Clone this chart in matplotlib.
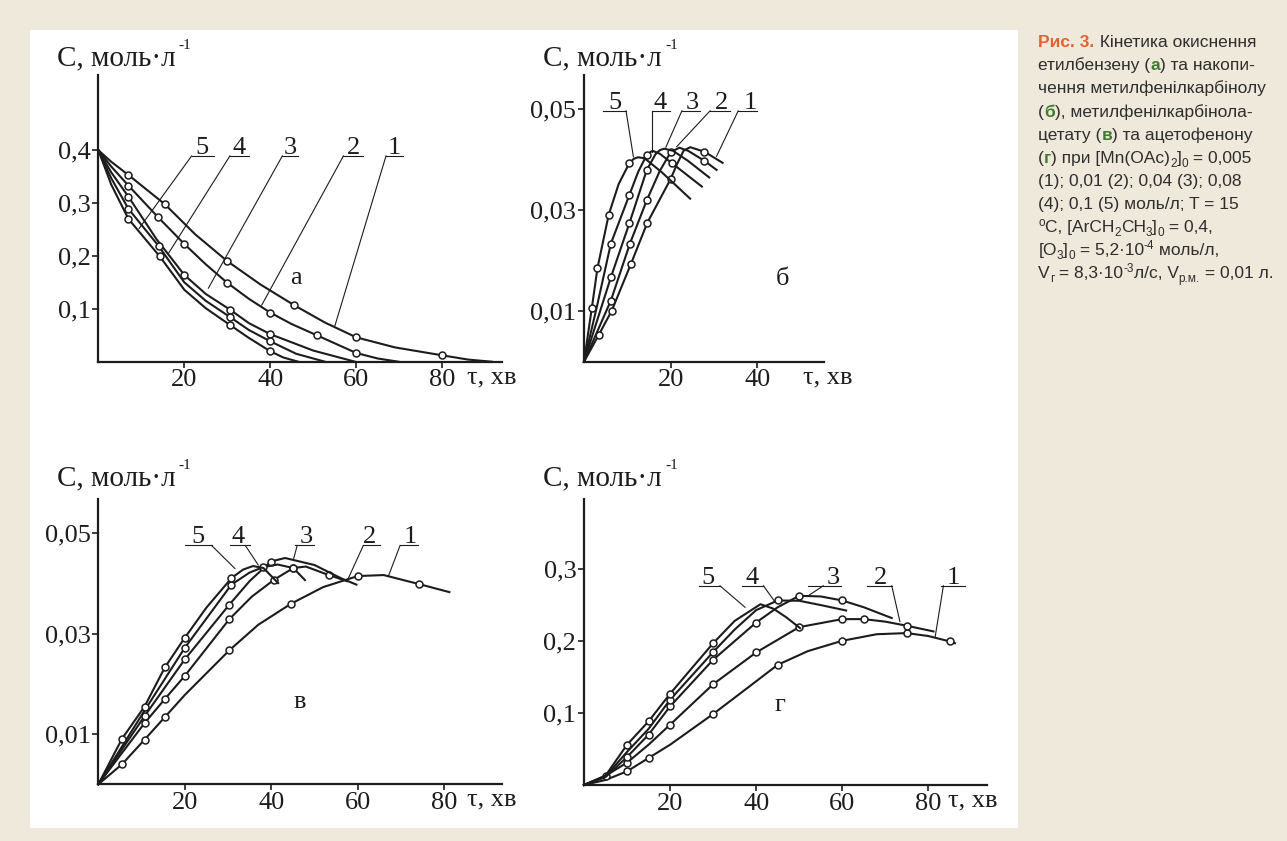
import matplotlib
matplotlib.use('Agg')
import matplotlib.pyplot as plt
from matplotlib.patches import Rectangle
from matplotlib.font_manager import FontProperties

# ---- data (x: tau, min; y: C, mol/l) ----
# panel a: ethylbenzene decay, curves 1..5
A_X = [[0, 3, 7, 15.5, 22.5, 30, 37.7, 45.5, 52.7, 60, 69, 80, 86, 91.5],
       [0, 3, 7, 13.8, 20, 25, 30, 35, 40, 45, 50.8, 60, 65, 69.8],
       [0, 3, 7, 13.5, 20, 25, 30.7, 35, 40, 50, 59.7],
       [0, 3, 7, 14, 20, 25, 30.7, 35, 40, 46, 52.7],
       [0, 3, 7, 14.3, 20, 25, 30.7, 35, 40, 43, 46.5]]
A_Y = [[0.4, 0.378, 0.353, 0.2975, 0.241, 0.190, 0.146, 0.107, 0.074, 0.046, 0.027, 0.012, 0.004, 0.0],
       [0.4, 0.369, 0.333, 0.274, 0.2225, 0.184, 0.149, 0.119, 0.0927, 0.071, 0.050, 0.0164, 0.006, 0.0],
       [0.4, 0.358, 0.312, 0.232, 0.164, 0.128, 0.098, 0.073, 0.052, 0.021, 0.0],
       [0.4, 0.347, 0.289, 0.219, 0.150, 0.115, 0.084, 0.060, 0.0385, 0.015, 0.0],
       [0.4, 0.335, 0.270, 0.199, 0.136, 0.101, 0.069, 0.045, 0.0197, 0.008, 0.0]]
A_M = [[2, 3, 5, 7, 9, 11], [2, 3, 4, 6, 8, 10, 11], [2, 4, 6, 8], [2, 3, 6, 8], [2, 3, 6, 8]]

# panel b: methylphenylcarbinol
B_X = [[0, 3.4, 6.4, 10.8, 14.6, 20, 21.5, 23, 24.5, 27.8, 32],
       [0, 6.2, 10.6, 14.5, 17.5, 20, 22, 24, 27.8, 30.6],
       [0, 6.2, 10.5, 14.5, 16.5, 17.5, 18.5, 20.5, 24, 28.9],
       [0, 3, 6.2, 10.5, 12.5, 14.5, 15.8, 17.5, 20.2, 27.2],
       [0, 1.8, 3.1, 5.7, 8, 10.5, 11.5, 12.5, 14, 18, 24.5]]
B_Y = [[0, 0.0053, 0.0101, 0.0193, 0.0275, 0.0362, 0.0392, 0.0418, 0.0425, 0.0416, 0.0394],
       [0, 0.0121, 0.0234, 0.032, 0.0378, 0.0415, 0.0424, 0.0418, 0.0398, 0.038],
       [0, 0.0167, 0.0275, 0.038, 0.0411, 0.0419, 0.0422, 0.0418, 0.0398, 0.0365],
       [0, 0.011, 0.0234, 0.0331, 0.0376, 0.0410, 0.0418, 0.0412, 0.0394, 0.0347],
       [0, 0.0106, 0.0185, 0.0291, 0.0352, 0.0394, 0.0402, 0.0405, 0.0403, 0.0375, 0.0323]]
B_M = [[1, 2, 3, 4, 5, 9], [1, 2, 3, 5, 8], [1, 2, 3], [2, 3, 5, 8], [1, 2, 3, 5]]

# panel v: methylphenylcarbinol acetate
V_X = [[0, 5.5, 10.7, 15.4, 20, 30.3, 37, 44.6, 52, 60, 66, 74.2, 81.2],
       [0, 10.7, 15.4, 20, 30.3, 35.5, 40.7, 45.1, 48, 53.3, 57.5],
       [0, 10.7, 20, 30.3, 35, 39.9, 43.2, 50, 56.3, 59.7],
       [0, 10.7, 20, 30.8, 35, 38.2, 41.5, 45.1, 47.8],
       [0, 5.5, 10.7, 15.4, 20, 25, 30.8, 33.5, 35.8, 38.2, 41.6]]
V_Y = [[0, 0.004, 0.0089, 0.0134, 0.0178, 0.0267, 0.0318, 0.036, 0.0393, 0.0415, 0.0417, 0.0399, 0.0383],
       [0, 0.0122, 0.017, 0.0216, 0.0329, 0.0374, 0.0408, 0.0431, 0.0434, 0.0417, 0.0405],
       [0, 0.0136, 0.0249, 0.0358, 0.0405, 0.0444, 0.0451, 0.0437, 0.041, 0.0398],
       [0, 0.0147, 0.0272, 0.0398, 0.0422, 0.0433, 0.0438, 0.0431, 0.0407],
       [0, 0.0091, 0.0155, 0.0233, 0.0292, 0.0352, 0.0411, 0.0428, 0.0435, 0.0431, 0.0401]]
V_M = [[1, 2, 3, 5, 7, 9, 11], [1, 2, 3, 4, 6, 7, 9], [1, 2, 3, 5], [2, 3, 5, 7], [1, 2, 3, 4, 6]]

# panel g: acetophenone
G_X = [[0, 5, 10, 15, 20, 30, 38, 45, 52, 60, 68, 75, 80, 85, 86.2],
       [0, 5, 10, 15, 20, 30, 40, 50, 60, 65, 70, 75, 81.2],
       [0, 5, 10, 15, 20, 30, 40, 45, 50, 55, 60, 65, 71.5],
       [0, 5, 10, 15, 20, 30, 35, 40, 45, 50, 55, 60.9],
       [0, 5, 10, 15, 20, 25, 30, 35, 41, 44, 47, 50.2]]
G_Y = [[0, 0.007, 0.019, 0.0375, 0.056, 0.0986, 0.135, 0.167, 0.186, 0.2004, 0.2095, 0.2111, 0.207, 0.1995, 0.197],
       [0, 0.0129, 0.031, 0.056, 0.0838, 0.140, 0.1842, 0.2194, 0.2305, 0.2305, 0.227, 0.2213, 0.2134],
       [0, 0.011, 0.0389, 0.070, 0.1092, 0.174, 0.2258, 0.247, 0.2629, 0.262, 0.2564, 0.247, 0.232],
       [0, 0.012, 0.046, 0.078, 0.1185, 0.1847, 0.216, 0.243, 0.2564, 0.256, 0.250, 0.2425],
       [0, 0.013, 0.056, 0.0884, 0.1268, 0.162, 0.197, 0.228, 0.2512, 0.245, 0.233, 0.218]]
G_M = [[2, 3, 5, 7, 9, 11, 13], [1, 2, 4, 5, 6, 7, 8, 9, 11], [2, 3, 4, 5, 6, 8, 10], [4, 5, 8], [2, 3, 4, 6]]

CURVE_NAMES = ['1', '2', '3', '4', '5']

# curve-number callouts: text x, underline y, underline x0/x1, leader start x, leader end (x, y)
A_LBL = dict(tx=[68.8, 59.3, 44.6, 32.8, 24.0], uy=0.389,
             u0=[66.9, 57.0, 42.8, 30.6, 21.7], u1=[70.8, 61.5, 46.5, 35.0, 26.9],
             l0=[66.9, 57.0, 42.8, 30.6, 21.7], lx=[55.0, 38.0, 25.6, 16.4, 9.5],
             ly=[0.0675, 0.107, 0.139, 0.206, 0.252])
B_LBL = dict(tx=[38.5, 31.8, 25.1, 17.6, 7.2], uy=0.0497,
             u0=[35.6, 29.1, 22.6, 15.6, 4.4], u1=[40.0, 33.7, 26.8, 19.9, 9.7],
             l0=[35.6, 29.1, 22.6, 15.6, 9.7], lx=[30.6, 21.4, 18.9, 15.6, 11.4],
             ly=[0.0407, 0.0426, 0.0425, 0.0416, 0.0406])
V_LBL = dict(tx=[72.1, 62.8, 48.0, 32.4, 23.1], uy=0.0476,
             u0=[69.8, 61.3, 45.5, 30.5, 20.0], u1=[74.0, 65.2, 49.8, 35.0, 26.2],
             l0=[69.8, 61.3, 46.0, 34.0, 26.2], lx=[67.1, 57.8, 45.2, 37.0, 31.6],
             ly=[0.0415, 0.041, 0.045, 0.0437, 0.043])
G_LBL = dict(tx=[85.8, 68.8, 57.8, 39.0, 28.9], uy=0.2768,
             u0=[83.0, 65.8, 52.1, 36.6, 26.7], u1=[88.5, 71.5, 59.8, 41.7, 31.6],
             l0=[83.5, 71.5, 55.6, 41.7, 31.6], lx=[81.6, 73.4, 52.1, 44.3, 37.4],
             ly=[0.2064, 0.227, 0.263, 0.255, 0.247])

CAPTION = [
    [('Рис. 3.', 'title'), (' Кінетика окиснення', 'n')],
    [('етилбензену (', 'n'), ('а', 'key'), (') та накопи-', 'n')],
    [('чення метилфенілкарбінолу', 'n')],
    [('(', 'n'), ('б', 'key'), ('), метилфенілкарбінола-', 'n')],
    [('цетату (', 'n'), ('в', 'key'), (') та ацетофенону', 'n')],
    [('(', 'n'), ('г', 'key'), (') при [Mn(OAc)', 'n'), ('2', 'sub'), (']', 'n'), ('0', 'sub'), (' = 0,005', 'n')],
    [('(1); 0,01 (2); 0,04 (3); 0,08', 'n')],
    [('(4); 0,1 (5) моль/л; T = 15', 'n')],
    [('o', 'sup'), ('C, [ArCH', 'n'), ('2', 'sub'), ('CH', 'n'), ('3', 'sub'), (']', 'n'), ('0', 'sub'), (' = 0,4,', 'n')],
    [('[O', 'n'), ('3', 'sub'), (']', 'n'), ('0', 'sub'), (' = 5,2·10', 'n'), ('-4', 'sup'), (' моль/л,', 'n')],
    [('V', 'n'), ('г', 'sub'), (' = 8,3·10', 'n'), ('-3', 'sup'), ('л/с, V', 'n'), ('р.м.', 'sub'), (' = 0,01 л.', 'n')],
]

INK = '#1c1c1c'
W, H = 1287, 841
FS = 19

plt.rcParams['font.family'] = ['Liberation Serif', 'DejaVu Serif']

fig = plt.figure(figsize=(W / 100, H / 100), dpi=100)
fig.patch.set_facecolor('#efe9dc')
fig.patches.append(Rectangle((30 / W, 1 - 828 / H), 988 / W, 798 / H, transform=fig.transFigure,
                             facecolor='white', edgecolor='none', zorder=-5))


def add_ax(left, right, bottom, top):
    ax = fig.add_axes([left / W, 1 - bottom / H, (right - left) / W, (bottom - top) / H])
    ax.patch.set_visible(False)
    for s in ['top', 'right']:
        ax.spines[s].set_visible(False)
    for s in ['left', 'bottom']:
        ax.spines[s].set_linewidth(1.6)
        ax.spines[s].set_color(INK)
    ax.tick_params(direction='out', length=4, width=1.2, colors=INK, labelsize=FS, pad=1.5)
    return ax


def draw_panel(ax, xs, ys, marks, lbl, xlim, ylim, xticks, yticks, ylabels, letter, tau_x):
    for x, y, m in zip(xs, ys, marks):
        ax.plot(x, y, color=INK, lw=1.5, marker='o', markevery=m, ms=5, mfc='white',
                mec=INK, mew=1.1, clip_on=False, zorder=3)
    for i, name in enumerate(CURVE_NAMES):
        ax.plot([lbl['u0'][i], lbl['u1'][i]], [lbl['uy'], lbl['uy']], color=INK, lw=0.8, clip_on=False)
        ax.plot([lbl['l0'][i], lbl['lx'][i]], [lbl['uy'], lbl['ly'][i]], color=INK, lw=0.8, clip_on=False)
        ax.annotate(name, (lbl['tx'][i], lbl['uy']), xytext=(0, 1.5), textcoords='offset points',
                    ha='center', va='baseline', fontsize=FS, color=INK)
    ax.set_xlim(*xlim)
    ax.set_ylim(*ylim)
    ax.set_xticks(xticks)
    ax.set_xticklabels([str(t) for t in xticks])
    ax.set_yticks(yticks)
    ax.set_yticklabels(ylabels)
    ax.text(letter[0], letter[1], letter[2], ha='center', va='center', fontsize=FS, color=INK)
    ax.annotate('τ, хв', xy=(tau_x, 0), xycoords=('data', 'axes fraction'), xytext=(0, -11),
                textcoords='offset points', ha='left', va='center', fontsize=FS, color=INK,
                annotation_clip=False)


def y_label(x_px, yc_px):
    t = fig.text(x_px / W, 1 - yc_px / H, 'C, моль·л', fontsize=FS + 2, ha='left', va='center', color=INK)
    bb = t.get_window_extent(fig.canvas.get_renderer())
    fig.text((bb.x1 + 3) / W, 1 - (yc_px - 13) / H, '-1', fontsize=11, ha='left', va='center', color=INK)


ax_a = add_ax(98.3, 501.7, 361.7, 75)
draw_panel(ax_a, A_X, A_Y, A_M, A_LBL, (0, 93.8), (0, 0.542), [20, 40, 60, 80],
           [0.1, 0.2, 0.3, 0.4], ['0,1', '0,2', '0,3', '0,4'], (45.9, 0.158, 'а'), 85.7)
y_label(56.7, 58.3)

ax_b = add_ax(584, 824, 361.7, 75)
draw_panel(ax_b, B_X, B_Y, B_M, B_LBL, (0, 55.4), (0, 0.0568), [20, 40],
           [0.01, 0.03, 0.05], ['0,01', '0,03', '0,05'], (45.9, 0.0164, 'б'), 50.6)
y_label(543.3, 58.3)

ax_v = add_ax(98.3, 501.7, 784.3, 499.3)
draw_panel(ax_v, V_X, V_Y, V_M, V_LBL, (0, 93.3), (0, 0.0568), [20, 40, 60, 80],
           [0.01, 0.03, 0.05], ['0,01', '0,03', '0,05'], (46.6, 0.0165, 'в'), 85.2)
y_label(56.7, 478.3)

ax_g = add_ax(584, 987.3, 785, 499.3)
draw_panel(ax_g, G_X, G_Y, G_M, G_LBL, (0, 93.7), (0, 0.397), [20, 40, 60, 80],
           [0.1, 0.2, 0.3], ['0,1', '0,2', '0,3'], (45.5, 0.1115, 'г'), 84.6)
y_label(543.3, 478.3)

# caption on the right, drawn piece by piece
renderer = fig.canvas.get_renderer()
CAP_FONT = ['Liberation Sans', 'DejaVu Sans']
STYLE = {'n': (12.5, 'normal', '#2e2e2e', 0),
         'title': (12.5, 'bold', '#e2632f', 0),
         'key': (12.5, 'bold', '#3e7d2c', 0),
         'sub': (8.5, 'normal', '#2e2e2e', 4),
         'sup': (8.5, 'normal', '#2e2e2e', -6)}


def text_width(s, fp):
    w1 = renderer.get_text_width_height_descent('|' + s + '|', fp, ismath=False)[0]
    w0 = renderer.get_text_width_height_descent('||', fp, ismath=False)[0]
    return w1 - w0


base = 47.3
for line in CAPTION:
    x = 1038.3
    for s, kind in line:
        size, weight, color, dy = STYLE[kind]
        fp = FontProperties(family=CAP_FONT, size=size, weight=weight)
        fig.text(x / W, 1 - (base + dy) / H, s, fontproperties=fp, color=color, ha='left', va='baseline')
        x += text_width(s, fp)
    base += 23.1

fig.savefig('out.png', dpi=100, facecolor=fig.get_facecolor())
